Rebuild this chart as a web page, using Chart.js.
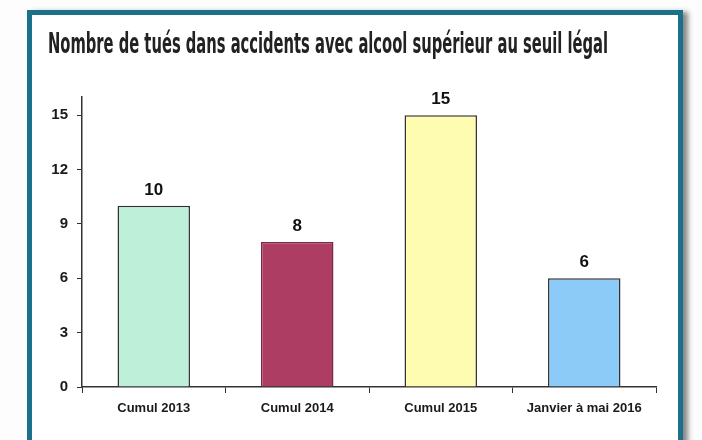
<!DOCTYPE html>
<html>
<head>
<meta charset="utf-8">
<script src="https://cdn.jsdelivr.net/npm/chart.js@4"></script>
<style>
  html, body { margin: 0; padding: 0; background: #fdfdfd; }
  body { width: 702px; height: 440px; overflow: hidden; position: relative; }
  #frame {
    position: absolute; left: 27px; top: 10px; width: 646px; height: 470px;
    border: 5px solid #1b7189; background: #ffffff;
    box-shadow: 5px 2px 5px rgba(40,40,40,0.55);
  }
  #wrap { position: absolute; left: 0; top: 0; width: 702px; height: 440px; }
</style>
</head>
<body>
<div id="frame"></div>
<div id="wrap"><canvas id="c" width="702" height="440"></canvas></div>
<script>
const titleText = "Nombre de tués dans accidents avec alcool supérieur au seuil légal";
const categories = ["Cumul 2013", "Cumul 2014", "Cumul 2015", "Janvier à mai 2016"];
const values = [10, 8, 15, 6];
const yTicks = [0, 3, 6, 9, 12, 15];
const barColors = ["#bdefd9", "#ad3d63", "#fefcb0", "#8ccaf7"];
const barBorders = ["#333333", "#7a2745", "#333333", "#333333"];

const narrow = "'Liberation Sans Narrow', 'Arial Narrow', 'DejaVu Sans Condensed', sans-serif";
const sans = "'Liberation Sans', Arial, sans-serif";

const titlePlugin = {
  id: 'condTitle',
  afterDraw(chart) {
    const ctx = chart.ctx;
    ctx.save();
    ctx.font = "bold 28px " + narrow;
    ctx.fillStyle = "#222222";
    ctx.textBaseline = "alphabetic";
    ctx.textAlign = "left";
    const w = ctx.measureText(titleText).width;
    const target = 560;
    ctx.translate(48, 53);
    ctx.scale(target / w, 1);
    ctx.fillText(titleText, 0, 0);
    ctx.restore();
  }
};

const valuePlugin = {
  id: 'valueLabels',
  afterDatasetsDraw(chart) {
    const ctx = chart.ctx;
    const meta = chart.getDatasetMeta(0);
    ctx.save();
    ctx.font = "bold 17px " + sans;
    ctx.fillStyle = "#111111";
    ctx.textAlign = "center";
    ctx.textBaseline = "alphabetic";
    meta.data.forEach((bar, i) => {
      ctx.fillText(String(values[i]), bar.x, bar.y - 11);
    });
    ctx.restore();
  }
};

new Chart(document.getElementById('c'), {
  type: 'bar',
  data: {
    labels: categories,
    datasets: [{
      data: values,
      backgroundColor: barColors,
      borderColor: barBorders,
      borderWidth: 1.5,
      categoryPercentage: 1.0,
      barPercentage: 0.505
    }]
  },
  options: {
    responsive: false,
    animation: false,
    devicePixelRatio: 1,
    layout: { padding: { top: 97, right: 46, bottom: 23, left: 0 } },
    plugins: {
      legend: { display: false },
      title: { display: false },
      tooltip: { enabled: false }
    },
    scales: {
      x: {
        offset: true,
        grid: { display: true, drawOnChartArea: false, drawTicks: true, tickLength: 6, color: "#333333", lineWidth: 1 },
        border: { display: true, color: "#333333", width: 1.5 },
        ticks: { color: "#1a1a1a", padding: 8, maxRotation: 0, autoSkip: false, font: { family: sans, size: 13, weight: 'bold' } },
        afterFit(s) { s.height = 30; }
      },
      y: {
        min: 0,
        max: 16,
        afterBuildTicks(s) { s.ticks = yTicks.map(v => ({ value: v })); },
        grid: { display: true, drawOnChartArea: false, drawTicks: true, tickLength: 5, color: "#333333", lineWidth: 1 },
        border: { display: true, color: "#333333", width: 1.5 },
        ticks: { color: "#1a1a1a", padding: 9, font: { family: sans, size: 15, weight: 'bold' } },
        afterFit(s) { s.width = 82; }
      }
    }
  },
  plugins: [titlePlugin, valuePlugin]
});
</script>
</body>
</html>
